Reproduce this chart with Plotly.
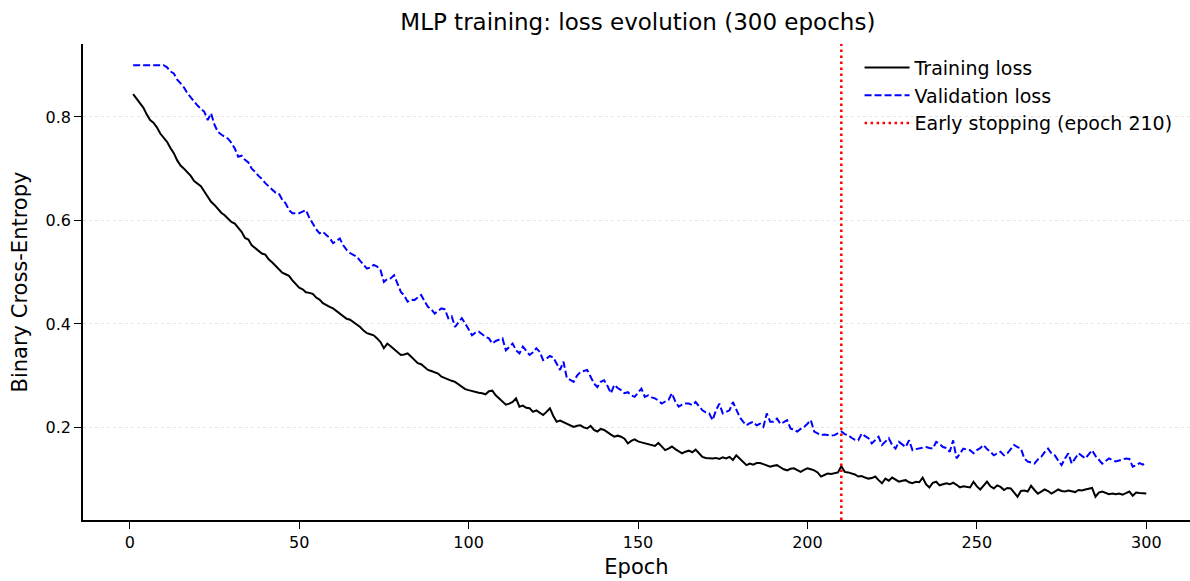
import plotly.graph_objects as go

epochs = list(range(1, 301))

train_loss = [
    0.844, 0.835, 0.826, 0.818, 0.805, 0.794, 0.789, 0.780, 0.768, 0.760,
    0.752, 0.740, 0.730, 0.716, 0.706, 0.700, 0.694, 0.686, 0.676, 0.671,
    0.666, 0.656, 0.645, 0.636, 0.630, 0.622, 0.615, 0.610, 0.603, 0.597,
    0.594, 0.586, 0.578, 0.566, 0.563, 0.552, 0.547, 0.541, 0.536, 0.534,
    0.525, 0.519, 0.512, 0.504, 0.499, 0.496, 0.493, 0.484, 0.476, 0.470,
    0.467, 0.461, 0.460, 0.458, 0.451, 0.447, 0.440, 0.436, 0.433, 0.430,
    0.425, 0.419, 0.414, 0.410, 0.408, 0.403, 0.398, 0.394, 0.387, 0.382,
    0.380, 0.378, 0.372, 0.365, 0.353, 0.362, 0.357, 0.351, 0.346, 0.340,
    0.341, 0.343, 0.337, 0.330, 0.324, 0.322, 0.316, 0.311, 0.309, 0.307,
    0.304, 0.298, 0.295, 0.292, 0.290, 0.288, 0.283, 0.279, 0.274, 0.272,
    0.270, 0.268, 0.267, 0.266, 0.264, 0.270, 0.271, 0.262, 0.256, 0.250,
    0.244, 0.246, 0.249, 0.256, 0.240, 0.242, 0.238, 0.237, 0.230, 0.233,
    0.228, 0.224, 0.230, 0.237, 0.222, 0.211, 0.213, 0.210, 0.208, 0.205,
    0.201, 0.203, 0.204, 0.200, 0.198, 0.203, 0.195, 0.192, 0.197, 0.195,
    0.190, 0.186, 0.182, 0.184, 0.182, 0.178, 0.169, 0.174, 0.177, 0.173,
    0.171, 0.169, 0.168, 0.166, 0.164, 0.170, 0.162, 0.156, 0.159, 0.163,
    0.158, 0.154, 0.150, 0.153, 0.155, 0.152, 0.157, 0.150, 0.143, 0.141,
    0.140, 0.140, 0.141, 0.139, 0.142, 0.140, 0.143, 0.137, 0.146, 0.139,
    0.132, 0.127, 0.130, 0.128, 0.131, 0.131, 0.129, 0.126, 0.124, 0.126,
    0.127, 0.123, 0.119, 0.117, 0.120, 0.121, 0.117, 0.114, 0.118, 0.121,
    0.119, 0.117, 0.113, 0.105, 0.108, 0.111, 0.110, 0.111, 0.113, 0.125,
    0.114, 0.113, 0.111, 0.109, 0.105, 0.106, 0.103, 0.101, 0.102, 0.105,
    0.098, 0.092, 0.101, 0.097, 0.103, 0.099, 0.095, 0.097, 0.098, 0.094,
    0.092, 0.095, 0.094, 0.103, 0.090, 0.084, 0.093, 0.095, 0.088, 0.090,
    0.092, 0.090, 0.093, 0.089, 0.084, 0.086, 0.085, 0.084, 0.095, 0.086,
    0.080, 0.088, 0.095, 0.086, 0.082, 0.088, 0.085, 0.079, 0.083, 0.082,
    0.075, 0.066, 0.077, 0.078, 0.076, 0.087, 0.079, 0.072, 0.076, 0.080,
    0.077, 0.072, 0.076, 0.080, 0.077, 0.076, 0.078, 0.077, 0.075, 0.079,
    0.078, 0.080, 0.082, 0.083, 0.066, 0.074, 0.076, 0.073, 0.071, 0.072,
    0.071, 0.072, 0.070, 0.073, 0.076, 0.068, 0.074, 0.073, 0.072, 0.072,
]

val_loss = [
    0.900, 0.900, 0.900, 0.900, 0.900, 0.900, 0.900, 0.900, 0.900, 0.900,
    0.896, 0.888, 0.884, 0.872, 0.865, 0.857, 0.846, 0.839, 0.830, 0.822,
    0.815, 0.810, 0.794, 0.807, 0.785, 0.771, 0.766, 0.762, 0.758, 0.750,
    0.739, 0.723, 0.725, 0.717, 0.712, 0.700, 0.694, 0.686, 0.680, 0.672,
    0.665, 0.660, 0.654, 0.652, 0.640, 0.633, 0.620, 0.614, 0.614, 0.614,
    0.617, 0.620, 0.605, 0.594, 0.583, 0.575, 0.578, 0.572, 0.566, 0.556,
    0.560, 0.565, 0.552, 0.543, 0.537, 0.533, 0.530, 0.522, 0.514, 0.507,
    0.509, 0.514, 0.511, 0.504, 0.481, 0.487, 0.488, 0.494, 0.478, 0.462,
    0.455, 0.443, 0.447, 0.446, 0.451, 0.456, 0.444, 0.433, 0.428, 0.420,
    0.425, 0.430, 0.428, 0.411, 0.415, 0.394, 0.403, 0.411, 0.401, 0.389,
    0.378, 0.383, 0.385, 0.380, 0.375, 0.372, 0.362, 0.367, 0.369, 0.372,
    0.349, 0.356, 0.362, 0.349, 0.343, 0.356, 0.349, 0.340, 0.345, 0.353,
    0.346, 0.330, 0.333, 0.338, 0.335, 0.322, 0.311, 0.327, 0.295, 0.292,
    0.288, 0.300, 0.307, 0.309, 0.311, 0.298, 0.285, 0.278, 0.288, 0.291,
    0.280, 0.266, 0.282, 0.276, 0.272, 0.266, 0.268, 0.262, 0.259, 0.267,
    0.275, 0.259, 0.262, 0.258, 0.256, 0.252, 0.246, 0.250, 0.253, 0.266,
    0.250, 0.240, 0.244, 0.246, 0.246, 0.243, 0.249, 0.241, 0.233, 0.229,
    0.227, 0.214, 0.233, 0.246, 0.227, 0.230, 0.233, 0.249, 0.233, 0.220,
    0.211, 0.204, 0.208, 0.211, 0.204, 0.207, 0.201, 0.227, 0.211, 0.211,
    0.217, 0.207, 0.210, 0.214, 0.198, 0.195, 0.192, 0.197, 0.201, 0.207,
    0.214, 0.192, 0.189, 0.185, 0.186, 0.185, 0.184, 0.185, 0.188, 0.192,
    0.187, 0.185, 0.180, 0.176, 0.175, 0.188, 0.183, 0.179, 0.169, 0.175,
    0.182, 0.166, 0.172, 0.179, 0.166, 0.159, 0.172, 0.167, 0.162, 0.175,
    0.156, 0.158, 0.159, 0.161, 0.162, 0.160, 0.159, 0.172, 0.168, 0.162,
    0.160, 0.153, 0.175, 0.140, 0.150, 0.159, 0.157, 0.156, 0.150, 0.156,
    0.160, 0.166, 0.158, 0.153, 0.146, 0.150, 0.153, 0.146, 0.150, 0.158,
    0.166, 0.162, 0.159, 0.140, 0.134, 0.132, 0.130, 0.138, 0.143, 0.152,
    0.159, 0.150, 0.146, 0.136, 0.127, 0.140, 0.150, 0.130, 0.140, 0.150,
    0.145, 0.140, 0.148, 0.156, 0.145, 0.137, 0.130, 0.135, 0.140, 0.137,
    0.134, 0.136, 0.138, 0.140, 0.139, 0.124, 0.127, 0.131, 0.128, 0.133,
]

early_stop_epoch = 210
y_ticks = [0.2, 0.4, 0.6, 0.8]
x_ticks = [0, 50, 100, 150, 200, 250, 300]
y_range = [0.021, 0.941]
x_range = [-13.8, 312.9]

FONT = "DejaVu Sans"

fig = go.Figure()
fig.add_trace(go.Scatter(
    x=epochs, y=train_loss, mode="lines", name="Training loss",
    line=dict(color="black", width=2), legendgroup="a",
))
fig.add_trace(go.Scatter(
    x=epochs, y=val_loss, mode="lines", name="Validation loss",
    line=dict(color="blue", width=2, dash="7px,3px"), legendgroup="b",
))
fig.add_trace(go.Scatter(
    x=[early_stop_epoch, early_stop_epoch], y=y_range, mode="lines",
    name=f"Early stopping (epoch {early_stop_epoch})",
    line=dict(color="red", width=2.5, dash="2.5px,3.5px"), legendgroup="c",
))

fig.update_layout(
    width=1190, height=581,
    margin=dict(l=83, r=0, t=44, b=61),
    paper_bgcolor="white", plot_bgcolor="white",
    font=dict(family=FONT, color="black", size=16),
    title=dict(text="MLP training: loss evolution (300 epochs)",
               x=0.536, xanchor="center", y=0.962, yanchor="middle",
               font=dict(size=23, family=FONT)),
    showlegend=True,
    legend=dict(x=0.7015, y=0.99, xanchor="left", yanchor="top",
                font=dict(size=19, family=FONT),
                bgcolor="rgba(255,255,255,0)", tracegroupgap=0,
                traceorder="grouped", itemwidth=45),
)
fig.update_xaxes(
    range=x_range, tickvals=x_ticks, ticktext=[str(t) for t in x_ticks],
    showgrid=False, zeroline=False, showline=True, linecolor="black",
    linewidth=1.5, ticks="outside", ticklen=7, tickwidth=1.3,
    tickcolor="black", tickfont=dict(size=16),
    title=dict(text="Epoch", font=dict(size=21), standoff=8),
)
fig.update_yaxes(
    range=y_range, tickvals=y_ticks, ticktext=[f"{t:.1f}" for t in y_ticks],
    showgrid=True, gridcolor="#e4e4e4", gridwidth=0.8, griddash="dot",
    zeroline=False, showline=True, linecolor="black",
    linewidth=1.5, ticks="outside", ticklen=7, tickwidth=1.3,
    tickcolor="black", tickfont=dict(size=16),
    title=dict(text="Binary Cross-Entropy", font=dict(size=21), standoff=12),
)

fig.write_html("out.html")
